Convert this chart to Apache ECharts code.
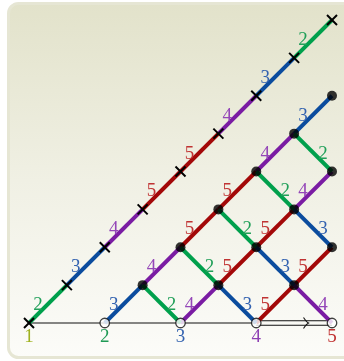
<!DOCTYPE html>
<html><head><meta charset="utf-8">
<script src="https://cdn.jsdelivr.net/npm/echarts@6/dist/echarts.min.js"></script>
<style>html,body{margin:0;padding:0;background:#fff}#c{width:344px;height:361px}</style>
</head><body><div id="c"></div>
<script>
// [startX, startY, label] ; up segments go to (x+1, y+1)
const upSegments = [
  [0,0,2],[1,1,3],[2,2,4],[3,3,5],[4,4,5],[5,5,4],[6,6,3],[7,7,2],
  [2,0,3],[3,1,4],[4,2,5],[5,3,5],[6,4,4],[7,5,3],
  [4,0,4],[5,1,5],[6,2,5],[7,3,4],
  [6,0,5],[7,1,5]
];
// down segments go to (x+1, y-1)
const downSegments = [
  [3,1,2],[4,2,2],[5,1,3],[5,3,2],[6,2,3],[7,1,4],[6,4,2],[7,3,3],[7,5,2]
];
const crossPoints = [[0,0],[1,1],[2,2],[3,3],[4,4],[5,5],[6,6],[7,7],[8,8]];
const openPoints = [[2,0],[4,0],[6,0],[8,0]];
const filledPoints = [[3,1],[5,1],[7,1],[4,2],[6,2],[8,2],[5,3],[7,3],[6,4],[8,4],[7,5],[8,6]];
const tickValues = [0,2,4,6,8];
const tickLabels = ['1','2','3','4','5'];
const tickColors = ['#9fb21f','#1f9a55','#3463b0','#8e3fb3','#c03030'];
// baseline: [start, end of single line, end of double arrow line]
const baseLine = [[0,6,8]];

const palette = {
  2:{line:'#00a04c', label:'#22a05a'},
  3:{line:'#0b4c9e', label:'#3463b0'},
  4:{line:'#7a1ca3', label:'#9446b8'},
  5:{line:'#a30808', label:'#c03333'}
};
const FONT = '19px "Liberation Serif", "DejaVu Serif", serif';

function segRender(dir){
  return function(params, api){
    const x = api.value(0), y = api.value(1), v = api.value(2);
    const p1 = api.coord([x,y]), p2 = api.coord([x+1, y+dir]);
    const mx=(p1[0]+p2[0])/2, my=(p1[1]+p2[1])/2;
    const c = palette[v];
    return {type:'group', children:[
      {type:'line', shape:{x1:p1[0],y1:p1[1],x2:p2[0],y2:p2[1]},
       style:{stroke:c.line, lineWidth:4, lineCap:'butt'}},
      {type:'text', x: mx + (dir>0?-10:10), y: my+1, z2:5,
       style:{text:String(v), fill:c.label, font:FONT, align:'center', verticalAlign:'middle'}}
    ]};
  };
}

const chart = echarts.init(document.getElementById('c'), null, {renderer:'canvas'});
chart.setOption({
  animation:false,
  backgroundColor:'#ffffff',
  graphic:[{
    type:'rect', z:-10, silent:true,
    shape:{x:8.5,y:3.5,width:350,height:354,r:10},
    style:{
      fill:new echarts.graphic.LinearGradient(0,0,0,1,[
        {offset:0,color:'#e2e2ca'},{offset:0.5,color:'#f0f0e4'},{offset:1,color:'#fcfcf9'}
      ]),
      stroke:'#e6e6d4', lineWidth:3
    }
  }],
  grid:{left:29,right:12,top:20,bottom:38,containLabel:false},
  xAxis:{type:'value',min:0,max:8,interval:2,
    axisLine:{show:false},axisTick:{show:false},splitLine:{show:false},
    axisLabel:{margin:5,fontFamily:'"Liberation Serif", serif',fontSize:19,
      formatter:function(v){const i=tickValues.indexOf(v);return i>=0?tickLabels[i]:'';},
      color:function(v){const i=tickValues.indexOf(Number(v));return i>=0?tickColors[i]:'#000';}}},
  yAxis:{type:'value',min:0,max:8,show:false},
  series:[
    {type:'custom', z:1, data:baseLine, renderItem:function(params, api){
      const a=api.coord([api.value(0),0]), b=api.coord([api.value(1),0]), c=api.coord([api.value(2),0]);
      const y=a[1];
      const tipX = b[0] + (c[0]-b[0])*0.69;
      return {type:'group', children:[
        {type:'line', shape:{x1:a[0],y1:y,x2:b[0],y2:y}, style:{stroke:'#111',lineWidth:1.2}},
        {type:'line', shape:{x1:b[0],y1:y-2.2,x2:c[0],y2:y-2.2}, style:{stroke:'#111',lineWidth:1.1}},
        {type:'line', shape:{x1:b[0],y1:y+2.2,x2:c[0],y2:y+2.2}, style:{stroke:'#111',lineWidth:1.1}},
        {type:'path', shape:{pathData:'M'+(tipX-5)+' '+(y-5.5)+' Q'+(tipX-2)+' '+(y-1)+' '+tipX+' '+y+' Q'+(tipX-2)+' '+(y+1)+' '+(tipX-5)+' '+(y+5.5)},
         style:{stroke:'#111',fill:null,lineWidth:1.1}}
      ]};
    }},
    {type:'custom', z:2, data:upSegments, renderItem:segRender(1)},
    {type:'custom', z:2, data:downSegments, renderItem:segRender(-1)},
    {type:'scatter', z:3, data:openPoints, symbol:'circle', symbolSize:9.5,
      itemStyle:{color:'#ffffff',borderColor:'#111',borderWidth:1.3}},
    {type:'scatter', z:3, data:filledPoints, symbol:'circle', symbolSize:10,
      itemStyle:{color:'#000'}},
    {type:'custom', z:4, data:crossPoints, renderItem:function(params, api){
      const p=api.coord([api.value(0),api.value(1)]), s=5;
      return {type:'group', children:[
        {type:'line', shape:{x1:p[0]-s,y1:p[1]-s,x2:p[0]+s,y2:p[1]+s}, style:{stroke:'#000',lineWidth:2}},
        {type:'line', shape:{x1:p[0]-s,y1:p[1]+s,x2:p[0]+s,y2:p[1]-s}, style:{stroke:'#000',lineWidth:2}}
      ]};
    }}
  ]
});
</script></body></html>
